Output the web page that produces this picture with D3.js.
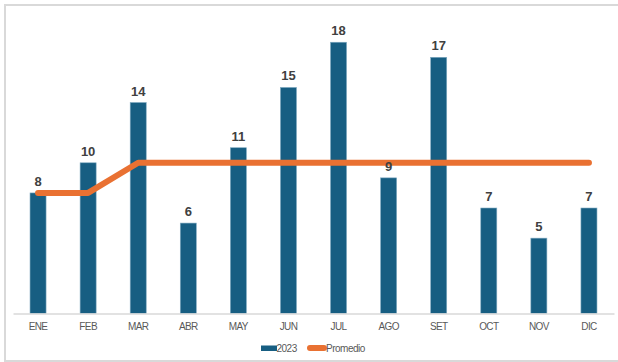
<!DOCTYPE html>
<html>
<head>
<meta charset="utf-8">
<script src="https://cdn.jsdelivr.net/npm/d3@7"></script>
<style>
  html, body { margin: 0; padding: 0; background: #fff; }
  svg { display: block; }
  text { font-family: "Liberation Sans", Arial, sans-serif; }
</style>
</head>
<body>
<svg id="chart" width="618" height="362"></svg>
<script>
// Monthly counts for 2023 and the running average line
const months = ["ENE", "FEB", "MAR", "ABR", "MAY", "JUN", "JUL", "AGO", "SET", "OCT", "NOV", "DIC"];
const values2023 = [8, 10, 14, 6, 11, 15, 18, 9, 17, 7, 5, 7];
const promedio = [8, 8, 10, 10, 10, 10, 10, 10, 10, 10, 10, 10];
const legendLabels = ["2023", "Promedio"];

const W = 618, H = 362;
const svg = d3.select("#chart");

const BAR = "#175e82";
const ORANGE = "#e97132";

// chart frame
svg.append("rect")
  .attr("x", 5).attr("y", 5)
  .attr("width", W + 10).attr("height", H - 6)
  .attr("fill", "#fff")
  .attr("stroke", "#d9d9d9").attr("stroke-width", 2);

const plot = { left: 13, right: 614, top: 12, bottom: 313.5 };

const x = d3.scaleBand()
  .domain(months)
  .range([plot.left, plot.right])
  .paddingInner(0.68)
  .paddingOuter(0.34);

const y = d3.scaleLinear()
  .domain([0, 20])
  .range([plot.bottom, plot.bottom - 20 * 15.07]);

// bars
svg.append("g").selectAll("rect")
  .data(values2023)
  .join("rect")
  .attr("x", (d, i) => x(months[i]))
  .attr("y", d => y(d))
  .attr("width", x.bandwidth())
  .attr("height", d => y(0) - y(d))
  .attr("fill", BAR)
  .attr("stroke", "#7fa9c0")
  .attr("stroke-width", 0.6);

// category axis
const xAxis = svg.append("g")
  .attr("transform", `translate(0,${plot.bottom})`)
  .call(d3.axisBottom(x).tickSize(0).tickPadding(9));
xAxis.select(".domain").attr("stroke", "#d9d9d9").attr("stroke-width", 1.5);
xAxis.selectAll("text")
  .attr("fill", "#595959")
  .attr("font-size", 10)
  .attr("letter-spacing", -0.6)
  .attr("font-family", "Liberation Sans, Arial, sans-serif");

// average line
const line = d3.line()
  .x((d, i) => x(months[i]) + x.bandwidth() / 2)
  .y(d => y(d));
svg.append("path")
  .datum(promedio)
  .attr("d", line)
  .attr("fill", "none")
  .attr("stroke", ORANGE)
  .attr("stroke-width", 6)
  .attr("stroke-linecap", "round")
  .attr("stroke-linejoin", "round");

// value labels
svg.append("g").selectAll("text")
  .data(values2023)
  .join("text")
  .attr("x", (d, i) => x(months[i]) + x.bandwidth() / 2)
  .attr("y", d => y(d) - 7)
  .attr("text-anchor", "middle")
  .attr("font-size", 13)
  .attr("font-weight", "bold")
  .attr("fill", "#404040")
  .text(d => d);

// legend
const lg = svg.append("g");
lg.append("rect")
  .attr("x", 261).attr("y", 345.5)
  .attr("width", 16).attr("height", 5.5)
  .attr("fill", BAR);
lg.append("text")
  .attr("x", 276.5).attr("y", 351.5)
  .attr("font-size", 10).attr("letter-spacing", -0.5)
  .attr("fill", "#595959")
  .text(legendLabels[0]);
lg.append("line")
  .attr("x1", 310).attr("x2", 324)
  .attr("y1", 348).attr("y2", 348)
  .attr("stroke", ORANGE).attr("stroke-width", 6)
  .attr("stroke-linecap", "round");
lg.append("text")
  .attr("x", 326).attr("y", 351.5)
  .attr("font-size", 10).attr("letter-spacing", -0.5)
  .attr("fill", "#595959")
  .text(legendLabels[1]);
</script>
</body>
</html>
